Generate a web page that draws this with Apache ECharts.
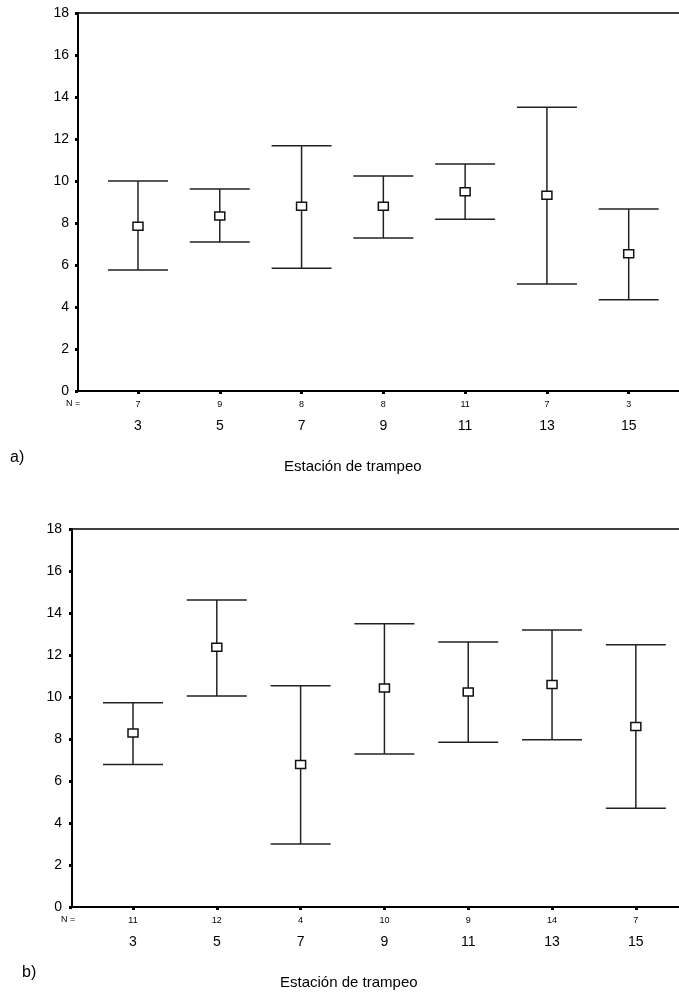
<!DOCTYPE html>
<html>
<head>
<meta charset="utf-8">
<script src="https://cdn.jsdelivr.net/npm/echarts@6/dist/echarts.min.js"></script>
<style>
  html, body { margin: 0; padding: 0; background: #fff; }
  #main { width: 679px; height: 995px; }
</style>
</head>
<body>
<div id="main"></div>
<script>
// estaciones de trampeo
var stations = [3, 5, 7, 9, 11, 13, 15];
var yTicks = [0, 2, 4, 6, 8, 10, 12, 14, 16, 18];

// a)
var nA = [7, 9, 8, 8, 11, 7, 3];
var meanA = [7.85, 8.33, 8.8, 8.8, 9.49, 9.32, 6.54];
var lowA = [5.76, 7.1, 5.84, 7.29, 8.18, 5.10, 4.35];
var highA = [10.0, 9.62, 11.68, 10.24, 10.81, 13.51, 8.67];

// b)
var nB = [11, 12, 4, 10, 9, 14, 7];
var meanB = [8.29, 12.37, 6.78, 10.43, 10.24, 10.60, 8.60];
var lowB = [6.78, 10.05, 3.0, 7.29, 7.84, 7.97, 4.70];
var highB = [9.73, 14.62, 10.54, 13.49, 12.62, 13.19, 12.49];

var chart = echarts.init(document.getElementById('main'));

var font = 'Liberation Sans, Arial, sans-serif';

function buildData(low, high, mean) {
    return stations.map(function (s, i) {
        return [s, low[i], high[i], mean[i]];
    });
}

function renderBar(params, api) {
    var x = api.value(0);
    var pHigh = api.coord([x, api.value(2)]);
    var pLow = api.coord([x, api.value(1)]);
    var pMean = api.coord([x, api.value(3)]);
    var hw = 30;
    var st = { stroke: '#222', lineWidth: 1.5 };
    return {
        type: 'group',
        children: [
            { type: 'line', shape: { x1: pHigh[0], y1: pHigh[1], x2: pLow[0], y2: pLow[1] }, style: st },
            { type: 'line', shape: { x1: pHigh[0] - hw, y1: pHigh[1], x2: pHigh[0] + hw, y2: pHigh[1] }, style: st },
            { type: 'line', shape: { x1: pLow[0] - hw, y1: pLow[1], x2: pLow[0] + hw, y2: pLow[1] }, style: st },
            { type: 'rect', shape: { x: pMean[0] - 5, y: pMean[1] - 4, width: 10, height: 8 },
              style: { fill: '#fff', stroke: '#111', lineWidth: 1.5 } }
        ]
    };
}

function xAxisFor(idx, min, max, nList) {
    return {
        type: 'value',
        gridIndex: idx,
        min: min,
        max: max,
        splitLine: { show: false },
        axisLine: { onZero: false, lineStyle: { color: '#000', width: 2 } },
        axisTick: { customValues: stations, length: 3, lineStyle: { color: '#000', width: 3 } },
        axisLabel: {
            customValues: stations,
            margin: 8,
            color: '#000',
            fontFamily: font,
            formatter: function (v) {
                var i = stations.indexOf(v);
                return '{n|' + nList[i] + '}\n{c|' + v + '}';
            },
            rich: {
                n: { fontSize: 9, lineHeight: 12, fontFamily: font, color: '#000' },
                c: { fontSize: 14, lineHeight: 30, fontFamily: font, color: '#000' }
            }
        }
    };
}

// linea superior del recuadro (sin borde derecho)
function topAxisFor(idx, min, max) {
    return {
        type: 'value',
        gridIndex: idx,
        position: 'top',
        min: min,
        max: max,
        splitLine: { show: false },
        axisLine: { onZero: false, lineStyle: { color: '#000', width: 1.5 } },
        axisTick: { show: false },
        axisLabel: { show: false }
    };
}

function yAxisFor(idx, margin) {
    return {
        type: 'value',
        gridIndex: idx,
        min: 0,
        max: 18,
        interval: 2,
        splitLine: { show: false },
        axisLine: { show: true, lineStyle: { color: '#000', width: 2 } },
        axisTick: { show: true, length: 3, lineStyle: { color: '#000', width: 3 } },
        axisLabel: { margin: margin, fontSize: 14, color: '#000', fontFamily: font,
            formatter: function (v) { return yTicks.indexOf(v) >= 0 ? String(v) : ''; } }
    };
}

var option = {
    animation: false,
    backgroundColor: '#fff',
    grid: [
        { left: 78, top: 13, right: 0, height: 378 },
        { left: 72, top: 529, right: 0, height: 378 }
    ],
    xAxis: [
        xAxisFor(0, 1.533, 16.23, nA),
        xAxisFor(1, 1.544, 16.03, nB),
        topAxisFor(0, 1.533, 16.23),
        topAxisFor(1, 1.544, 16.03)
    ],
    yAxis: [
        yAxisFor(0, 9),
        yAxisFor(1, 10)
    ],
    graphic: [
        { type: 'text', left: 66, top: 399, style: { text: 'N =', fontSize: 9, fontFamily: font, fill: '#000' } },
        { type: 'text', left: 61, top: 915, style: { text: 'N =', fontSize: 9, fontFamily: font, fill: '#000' } },
        { type: 'text', left: 10, top: 450, style: { text: 'a)', fontSize: 16, fontFamily: 'Liberation Sans Narrow, Liberation Sans, sans-serif', fill: '#000' } },
        { type: 'text', left: 22, top: 965, style: { text: 'b)', fontSize: 16, fontFamily: 'Liberation Sans Narrow, Liberation Sans, sans-serif', fill: '#000' } },
        { type: 'text', left: 284, top: 459, style: { text: 'Estación de trampeo', fontSize: 15, fontFamily: font, fill: '#000' } },
        { type: 'text', left: 280, top: 975, style: { text: 'Estación de trampeo', fontSize: 15, fontFamily: font, fill: '#000' } }
    ],
    series: [
        {
            type: 'custom',
            xAxisIndex: 0,
            yAxisIndex: 0,
            renderItem: renderBar,
            encode: { x: 0, y: [1, 2, 3] },
            data: buildData(lowA, highA, meanA)
        },
        {
            type: 'custom',
            xAxisIndex: 1,
            yAxisIndex: 1,
            renderItem: renderBar,
            encode: { x: 0, y: [1, 2, 3] },
            data: buildData(lowB, highB, meanB)
        }
    ]
};

chart.setOption(option);
</script>
</body>
</html>
